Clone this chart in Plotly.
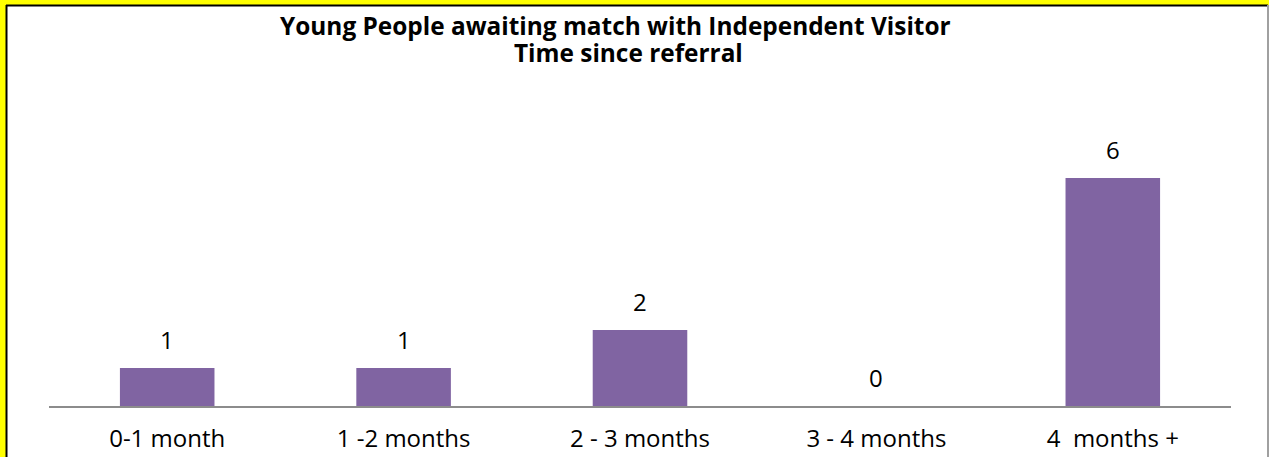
import plotly.graph_objects as go

categories = ["0-1 month", "1 -2 months", "2 - 3 months", "3 - 4 months", "4  months +"]
values = [1, 1, 2, 0, 6]
title_line1 = "Young People awaiting match with Independent Visitor"
title_line2 = "Time since referral"

W, H = 1269, 457
L, R, T, B = 49, 38, 140, 51
PW = W - L - R
PH = H - T - B

def px_x(x):
    return (x - L) / PW

def px_y(y):
    return (H - B - y) / PH

FONT = "Open Sans"

fig = go.Figure(go.Bar(
    x=categories, y=values,
    marker=dict(color="#8064A2", line=dict(width=0)),
))

shapes = [
    dict(type="rect", xref="paper", yref="paper", x0=px_x(6), x1=px_x(1269), y0=px_y(470), y1=px_y(5),
         fillcolor="white", line=dict(width=0), layer="below"),
    dict(type="line", xref="paper", yref="paper", x0=px_x(6), x1=px_x(1268), y0=px_y(5.5), y1=px_y(5.5),
         line=dict(color="#000000", width=2), layer="above"),
    dict(type="line", xref="paper", yref="paper", x0=px_x(6.5), x1=px_x(6.5), y0=px_y(470), y1=px_y(5),
         line=dict(color="#000000", width=2), layer="above"),
    dict(type="line", xref="paper", yref="paper", x0=px_x(1268), x1=px_x(1268), y0=px_y(470), y1=px_y(5),
         line=dict(color="#A0A0A0", width=2), layer="above"),
]

annotations = [
    dict(text="<b>%s</b>" % title_line1, xref="paper", yref="paper", x=px_x(615), y=px_y(25.5),
         xanchor="center", yanchor="middle", showarrow=False, font=dict(family=FONT, size=24.4, color="#000000")),
    dict(text="<b>%s</b>" % title_line2, xref="paper", yref="paper", x=px_x(628), y=px_y(53),
         xanchor="center", yanchor="middle", showarrow=False, font=dict(family=FONT, size=24.4, color="#000000")),
]
for c, v in zip(categories, values):
    annotations.append(dict(text=str(v), x=c, y=v, xref="x", yref="y", xanchor="center", yanchor="bottom",
                            yshift=10, showarrow=False, font=dict(family=FONT, size=24, color="#000000")))

fig.update_layout(
    width=W, height=H,
    margin=dict(l=L, r=R, t=T, b=B, pad=0, autoexpand=False),
    paper_bgcolor="#FFFF00", plot_bgcolor="white",
    showlegend=False,
    bargap=0.6,
    font=dict(family=FONT, color="#000000"),
    shapes=shapes,
    annotations=annotations,
    xaxis=dict(showline=True, linecolor="#8C8C8C", linewidth=2, ticks="outside", ticklen=10,
               tickcolor="rgba(0,0,0,0)", tickfont=dict(family=FONT, size=24, color="#000000"),
               showgrid=False, zeroline=False, automargin=False),
    yaxis=dict(range=[0, 7], visible=False, showgrid=False, zeroline=False, automargin=False),
)

fig.write_html("out.html", config={"displayModeBar": False, "responsive": False},
               post_script="document.body.style.margin='0';")
